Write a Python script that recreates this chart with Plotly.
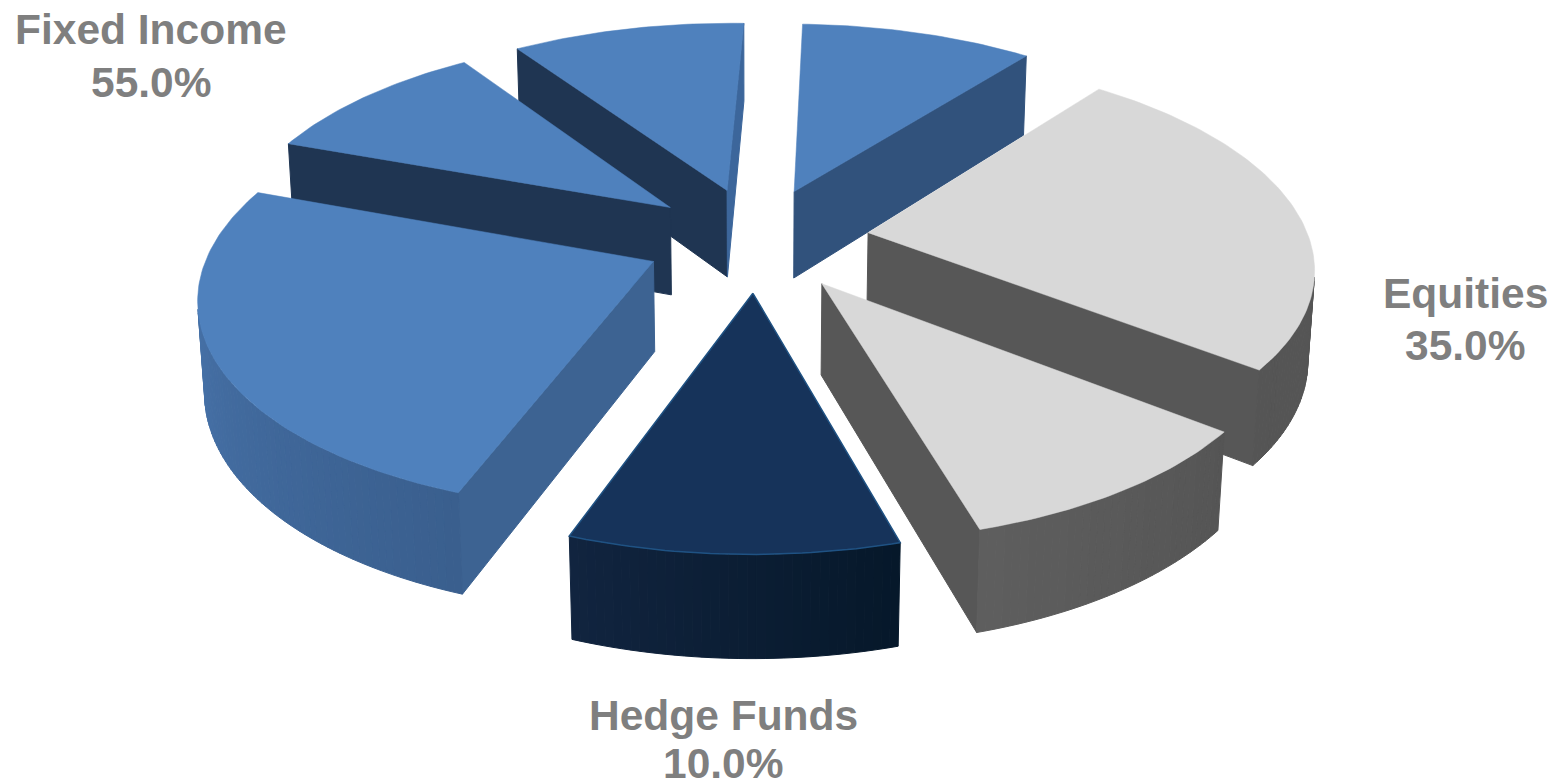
import numpy as np
import plotly.graph_objects as go

# Portfolio slices, clockwise from the top of the pie
slice_groups = ["Fixed Income", "Equities", "Equities", "Hedge Funds",
                "Fixed Income", "Fixed Income", "Fixed Income"]
slice_values = [10.0, 25.0, 10.0, 10.0, 25.0, 10.0, 10.0]
group_names = ["Fixed Income", "Equities", "Hedge Funds"]
name_positions = [(151, 29), (1465, 293), (723, 715)]
share_positions = [(151, 82), (1465, 345), (723, 763)]

# Face colours per slice
top_colors = ["#4F81BD", "#D8D8D8", "#D8D8D8", "#16335A", "#4F81BD", "#4F81BD", "#4F81BD"]
start_wall_colors = ["#31527C", "#575757", "#575757", "#0E2138", "#3D6392", "#1F3552", "#1F3552"]
end_wall_colors = ["#31527C", "#575757", "#575757", "#0E2138", "#3D6392", "#1F3552", "#3C669B"]
rim_start_colors = ["#31527C", "#555555", "#555555", "#06182A", "#3A5F8E", "#1F3552", "#1F3552"]
rim_end_colors = ["#31527C", "#555555", "#5E5E5E", "#11243F", "#4C7AB4", "#1F3552", "#1F3552"]
edge_colors = [None, None, None, "#1F5283", None, None, None]

# Pie construction
first_angle = 2.0
explode = 0.255
draw_order = [6, 0, 5, 1, 4, 2, 3]

# Perspective camera, in pixels
CX, CY = 757.0, 239.0
SCALE_X, SCALE_Y = 441.0, 205.0
DEPTH_GAIN = 0.147
THICKNESS = 90.0
THICKNESS_DEPTH = 0.012


def project(x, y, lower):
    """Map pie-plane coordinates to the page; lower=True gives the underside."""
    w = 1.0 - DEPTH_GAIN * y + (THICKNESS_DEPTH if lower else 0.0)
    drop = THICKNESS if lower else 0.0
    return CX + SCALE_X * x / w, CY + (SCALE_Y * y + drop) / w


def hex_rgb(c):
    return np.array([int(c[i:i + 2], 16) for i in (1, 3, 5)], dtype=float)


def blend(a, b, t):
    r, g, bl = (1 - t) * hex_rgb(a) + t * hex_rgb(b)
    return f"rgb({r:.0f},{g:.0f},{bl:.0f})"


def facing(pts):
    """Walls wound apex-rim-under face the camera when the signed area is negative."""
    area = 0.0
    for (x1, y1), (x2, y2) in zip(pts, pts[1:] + pts[:1]):
        area += x1 * y2 - x2 * y1
    return area < 0


def polygon(pts, color, edge=None, width=1.0):
    xs = [p[0] for p in pts] + [pts[0][0]]
    ys = [p[1] for p in pts] + [pts[0][1]]
    return go.Scatter(x=xs, y=ys, mode="lines", fill="toself", fillcolor=color,
                      line=dict(color=edge or color, width=width),
                      hoverinfo="skip", showlegend=False)


fig = go.Figure()
edges = first_angle + np.concatenate([[0.0], np.cumsum(slice_values)]) * 3.6

for i in draw_order:
    a0, a1 = edges[i], edges[i + 1]
    mid = np.radians((a0 + a1) / 2)
    ox, oy = explode * np.sin(mid), -explode * np.cos(mid)
    angles = np.radians(np.linspace(a0, a1, int(a1 - a0) + 2))
    rim = [(ox + np.sin(t), oy - np.cos(t)) for t in angles]

    top_rim = [project(x, y, False) for x, y in rim]
    low_rim = [project(x, y, True) for x, y in rim]
    apex_top = project(ox, oy, False)
    apex_low = project(ox, oy, True)

    start_wall = [apex_top, top_rim[0], low_rim[0], apex_low]
    if facing(start_wall):
        fig.add_trace(polygon(start_wall, start_wall_colors[i]))
    end_wall = [top_rim[-1], apex_top, apex_low, low_rim[-1]]
    if facing(end_wall):
        fig.add_trace(polygon(end_wall, end_wall_colors[i]))

    for k in range(len(rim) - 1):
        quad = [top_rim[k], top_rim[k + 1], low_rim[k + 1], low_rim[k]]
        if facing(quad):
            shade = blend(rim_start_colors[i], rim_end_colors[i], k / max(len(rim) - 2, 1))
            fig.add_trace(polygon(quad, shade))

    fig.add_trace(polygon([apex_top] + top_rim, top_colors[i], edge_colors[i],
                          1.5 if edge_colors[i] else 0.5))

# Group labels with their summed shares
for name, name_pos, share_pos in zip(group_names, name_positions, share_positions):
    share = sum(v for g, v in zip(slice_groups, slice_values) if g == name)
    for text, (lx, ly) in ((name, name_pos), (f"{share:.1f}%", share_pos)):
        fig.add_annotation(x=lx, y=ly, xref="x", yref="y", showarrow=False,
                           text=f"<b>{text}</b>", align="center",
                           font=dict(family="Liberation Sans", size=42.5, color="#7F7F7F"))

fig.update_layout(
    width=1559, height=781, margin=dict(l=0, r=0, t=0, b=0),
    paper_bgcolor="white", plot_bgcolor="white", showlegend=False,
    xaxis=dict(range=[0, 1559], visible=False, fixedrange=True),
    yaxis=dict(range=[781, 0], visible=False, fixedrange=True),
)
fig.write_html("out.html", config={"displayModeBar": False})
